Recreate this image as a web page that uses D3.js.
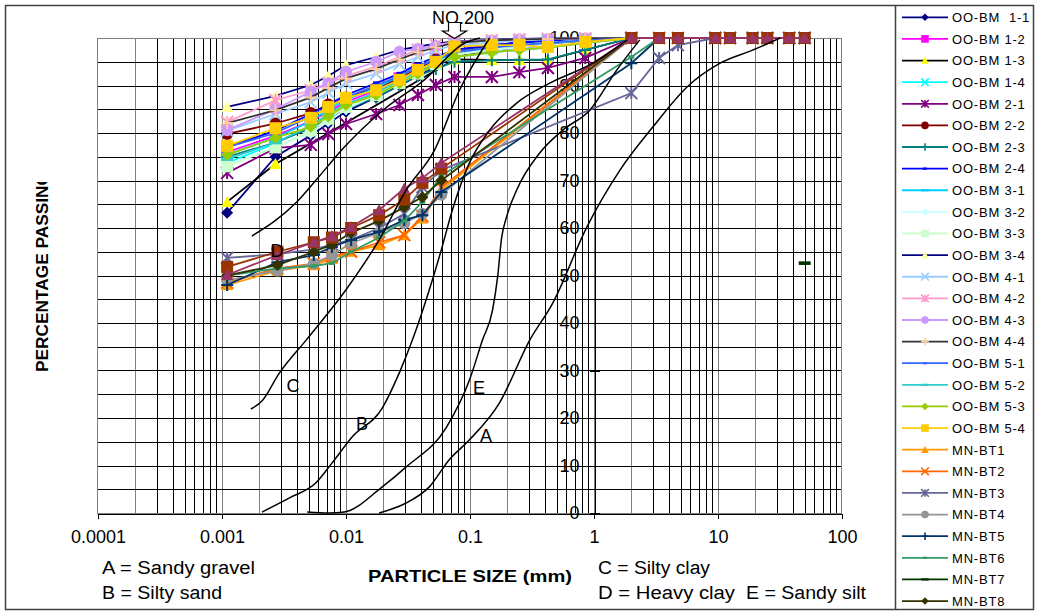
<!DOCTYPE html>
<html>

<head>
  <title>Particle size distribution</title>
  <script src="https://cdnjs.cloudflare.com/ajax/libs/d3/7.8.5/d3.min.js"></script>
  <style>
    body { margin: 0; background: #fff; }
    svg { font-family: Arial, 'Liberation Sans', sans-serif; }
  </style>
</head>

<body>
  <svg width="1040" height="613" id="mainsvg"></svg>
  <script>
    // ---- data ----
    const xTicks = [0.0001, 0.001, 0.01, 0.1, 1, 10, 100];
    const xTickLabels = ['0.0001', '0.001', '0.01', '0.1', '1', '10', '100'];
    const yTicks = [0, 10, 20, 30, 40, 50, 60, 70, 80, 90, 100];

    // sieve / hydrometer sizes (mm)
    const ooSizes = [0.0011, 0.0027, 0.0052, 0.0072, 0.01, 0.0175, 0.027, 0.038, 0.053, 0.075, 0.15, 0.25, 0.425, 0.85, 2];
    const mnSizes = [0.0011, 0.0028, 0.0055, 0.0077, 0.011, 0.0185, 0.0295, 0.0413, 0.0587, 2, 3.35, 4.75, 9.5, 12.5, 19, 25, 37.5, 50];

    // percentage passing
    const bm11 = [63.2, 75.0, 79.5, 82.0, 84.5, 87.5, 90.0, 92.0, 94.0, 96.0, 97.5, 98.0, 98.5, 99.2, 100];
    const bm12 = [76.0, 79.4, 82.5, 84.5, 86.5, 89.0, 91.5, 93.5, 95.5, 97.5, 98.5, 99.0, 99.3, 99.6, 100];
    const bm13 = [65.5, 73.5, null, null, null, null, null, null, null, 95.5, 95.4, 95.4, 95.4, 97.5, 100];
    const bm14 = [73.7, 77.8, 81.5, 84.0, 86.0, 88.5, 91.0, 93.0, 95.0, 97.0, 98.5, 99.0, 99.3, 99.6, 100];
    const bm21 = [71.6, 76.8, 77.5, 79.8, 81.9, 84.0, 85.9, 88.0, 90.1, 91.8, 91.8, 92.8, 93.7, 95.8, 100];
    const bm22 = [79.8, 82.0, 84.2, 86.0, 87.5, 89.5, 91.5, 93.5, 95.5, 97.0, 98.5, 99.0, 99.5, 99.8, 100];
    const bm23 = [75.0, 78.0, 81.0, 83.0, 85.0, 87.5, 90.0, 92.0, 93.5, 95.0, 95.3, 95.4, 95.5, 97.5, 100];
    const bm24 = [77.0, 80.5, 84.0, 86.0, 88.0, 90.5, 92.5, 94.5, 96.0, 97.5, 98.5, 99.0, 99.5, 99.8, 100];
    const bm31 = [75.5, 79.0, 82.5, 85.0, 87.0, 89.5, 92.0, 94.0, 95.5, 97.0, 98.0, 98.5, 99.0, 99.5, 100];
    const bm32 = [73.3, 77.0, 80.0, 82.5, 85.0, 88.0, 90.5, 92.5, 94.5, 96.5, 97.5, 98.0, 98.5, 99.0, 100];
    const bm33 = [73.0, 77.0, 80.5, 83.0, 85.5, 88.0, 90.5, 92.5, 94.5, 96.5, 97.5, 98.5, 99.0, 99.5, 100];
    const bm34 = [85.5, 87.8, 90.1, 92.0, 94.3, 96.0, 97.5, 98.2, 98.8, 99.3, 99.6, 99.8, 99.9, 100, 100];
    const bm41 = [80.5, 84.0, 86.5, 88.5, 90.5, 92.5, 94.5, 96.0, 97.5, 98.5, 99.0, 99.5, 99.7, 99.9, 100];
    const bm42 = [82.3, 86.9, 89.0, 90.5, 92.0, 94.0, 96.0, 97.5, 98.5, 99.2, 99.5, 99.7, 99.8, 99.9, 100];
    const bm43 = [80.6, 85.0, 88.7, 90.5, 92.9, 95.0, 97.1, 97.7, 98.3, 99.0, 99.5, 99.7, 99.8, 99.9, 100];
    const bm44 = [82.1, 84.8, 87.5, 89.5, 91.5, 93.5, 95.5, 97.0, 98.0, 99.0, 99.5, 99.7, 99.8, 99.9, 100];
    const bm51 = [77.0, 80.0, 83.5, 85.5, 87.5, 90.0, 92.0, 94.0, 95.5, 97.0, 98.0, 98.5, 99.0, 99.5, 100];
    const bm52 = [74.5, 78.0, 81.5, 84.0, 86.0, 88.5, 91.0, 93.0, 94.5, 96.0, 97.0, 97.5, 98.0, 99.0, 100];
    const bm53 = [75.4, 79.0, 81.3, 83.5, 85.9, 88.0, 90.5, 92.5, 94.5, 96.0, 97.0, 97.5, 98.0, 99.0, 100];
    const bm54 = [77.3, 81.0, 83.2, 85.5, 87.4, 89.0, 91.2, 93.3, 95.0, 98.2, 98.5, 98.5, 98.1, 99.2, 100];

    const bt1 = [48.0, 51.0, 52.2, 53.5, 55.0, 56.4, 58.5, 62.0, 68.0, 100, 100, 100, 100, 100, 100, 100, 100, 100];
    const bt2 = [48.5, 51.5, 52.5, 54.0, 55.0, 57.0, 58.5, 62.5, 68.5, 100, 100, 100, 100, 100, 100, 100, 100, 100];
    const bt3 = [53.7, 54.5, 55.5, 56.5, 57.5, 60.0, 63.0, 68.6, 72.2, 88.4, 95.8, 98.5, 100, 100, 100, 100, 100, 100];
    const bt4 = [49.0, 51.0, 52.5, 54.3, 56.8, 59.0, 61.0, 63.0, 67.0, 100, 100, 100, 100, 100, 100, 100, 100, 100];
    const bt5 = [48.0, 52.8, 54.3, 56.0, 57.5, 59.2, 61.7, 62.7, 67.6, 94.7, 100, 100, 100, 100, 100, 100, 100, 100];
    const bt6 = [50.0, 51.5, 52.0, 52.6, 55.0, 58.0, 61.5, 65.5, 71.0, 96.0, 100, 100, 100, 100, 100, 100, 100, 100];
    const bt7 = [null, null, null, null, null, null, null, null, null, null, null, null, null, null, null, null, null, 52.6];
    const bt8 = [50.0, 52.2, 55.0, 56.5, 59.0, 61.5, 64.4, 66.5, 70.0, 100, 100, 100, 100, 100, 100, 100, 100, 100];
    const bt9 = [51.8, 55.0, 57.0, 58.0, 60.0, 62.7, 66.0, 69.5, 72.5, 100, 100, 100, 100, 100, 100, 100, 100, 100];
    const bt10 = [50.1, 54.3, 57.0, 58.3, 60.2, 63.8, 68.3, 70.5, 73.7, 100, 100, 100, 100, 100, 100, 100, 100, 100];

    // reference grading curves [size mm, % passing]
    const curveA = [[0.0185, 0], [0.03, 2], [0.047, 5.5], [0.068, 11.2], [0.099, 15.4], [0.173, 23.2], [0.303, 36.4], [0.465, 44.2], [0.875, 60.2], [1.62, 72.2], [2.99, 81.3], [5.63, 89.7], [10.4, 94.7], [19.2, 97.5], [31.8, 100]];
    const curveB = [[0.0021, 0.2], [0.0035, 3.2], [0.0057, 6.3], [0.0077, 10.5], [0.0112, 16], [0.0196, 22.1], [0.0269, 29.5], [0.0343, 36.4], [0.047, 47], [0.0587, 55.4], [0.0721, 63.8], [0.099, 73.7], [0.144, 80.6], [0.238, 86.3], [0.44, 90.5], [0.98, 94.7], [1.85, 99.6]];
    const curveC = [[0.00171, 21.9], [0.0021, 23.6], [0.00289, 29.4], [0.00477, 36.4], [0.01, 47], [0.0185, 57.5], [0.0306, 68], [0.0517, 76.4], [0.0822, 89], [0.144, 100]];
    const curveD = [[0.00174, 58.3], [0.00395, 65.3], [0.00574, 70.1], [0.00966, 77], [0.0199, 84.8], [0.0429, 91.2], [0.0901, 98.9], [0.12, 100]];
    const curveE = [[0.00486, 0.2], [0.00731, 0], [0.00966, 0.2], [0.0196, 5.5], [0.0306, 9.7], [0.0647, 18.1], [0.099, 28], [0.126, 36.4], [0.152, 42.7], [0.167, 49.7], [0.18, 58], [0.197, 62.3], [0.238, 68], [0.365, 75.8], [0.56, 80.6], [0.925, 84.8], [1.53, 93.3], [2.34, 99.6]];
    const curveNames = ['A', 'B', 'C', 'D', 'E'];

    const ooNames = ['OO-BM  1-1', 'OO-BM 1-2', 'OO-BM 1-3', 'OO-BM 1-4', 'OO-BM 2-1', 'OO-BM 2-2', 'OO-BM 2-3', 'OO-BM 2-4',
      'OO-BM 3-1', 'OO-BM 3-2', 'OO-BM 3-3', 'OO-BM 3-4', 'OO-BM 4-1', 'OO-BM 4-2', 'OO-BM 4-3', 'OO-BM 4-4',
      'OO-BM 5-1', 'OO-BM 5-2', 'OO-BM 5-3', 'OO-BM 5-4'];
    const mnNames = ['MN-BT1', 'MN-BT2', 'MN-BT3', 'MN-BT4', 'MN-BT5', 'MN-BT6', 'MN-BT7', 'MN-BT8', 'MN-BT9', 'MN-BT10'];

    // ---- styles ----
    const lineColors = ['#000080', '#FF00FF', '#000000', '#00FFFF', '#800080', '#800000', '#008080', '#0000FF',
      '#00CCFF', '#CCFFFF', '#CCFFCC', '#000080', '#99CCFF', '#FF99CC', '#CC99FF', '#333333',
      '#3366FF', '#33CCCC', '#99CC00', '#FFCC00',
      '#FF9900', '#FF6600', '#666699', '#969696', '#003366', '#339966', '#003300', '#333300', '#993300', '#993366'];
    const markColors = lineColors.slice();
    markColors[2] = '#FFFF00';
    markColors[11] = '#FFFF99';
    markColors[15] = '#FFCC99';
    const markOrder = ['diamond', 'square', 'triangle', 'x', 'star', 'circle', 'plus', 'shortdash', 'dash'];

    const svg = d3.select('#mainsvg');
    const width = +svg.attr('width');
    const height = +svg.attr('height');

    svg.append('rect').attr('width', width).attr('height', height).attr('fill', '#fff');
    // chart border
    svg.append('rect').attr('x', 5.5).attr('y', 5.5).attr('width', 1028).attr('height', 604)
      .attr('fill', 'none').attr('stroke', '#404040').attr('stroke-width', 1.5);

    const xScale = d3.scaleLog().domain([1e-4, 100]).range([98, 842]);
    const yScale = d3.scaleLinear().domain([0, 100]).range([513, 38]);
    const px = v => Math.round(v) + 0.5;

    // grid
    const grid = svg.append('g').attr('shape-rendering', 'crispEdges');
    grid.selectAll('.vgrid').data(xScale.ticks().filter(t => t > 1e-4 && t < 100)).join('line')
      .attr('class', 'vgrid')
      .attr('x1', d => px(xScale(d))).attr('x2', d => px(xScale(d)))
      .attr('y1', yScale(100)).attr('y2', yScale(0))
      .attr('stroke', d => {
        const k = Math.round(d / Math.pow(10, Math.floor(Math.log10(d) + 1e-9)));
        return (k === 1 || k === 2) ? '#808080' : '#000';
      });
    grid.selectAll('.hgrid').data(d3.range(5, 100, 5)).join('line')
      .attr('class', 'hgrid')
      .attr('x1', 98).attr('x2', 842)
      .attr('y1', d => px(yScale(d))).attr('y2', d => px(yScale(d)))
      .attr('stroke', '#000');
    grid.append('rect').attr('x', 97.5).attr('y', 38.5).attr('width', 744).attr('height', 475)
      .attr('fill', 'none').attr('stroke', '#808080');

    // axes
    const xAxis = svg.append('g').attr('transform', 'translate(0,513.5)')
      .call(d3.axisBottom(xScale).tickValues(xTicks).tickFormat((d, i) => xTickLabels[i])
        .tickSizeInner(5).tickSizeOuter(0).tickPadding(12));
    xAxis.selectAll('text').attr('font-size', 18).attr('font-family', 'Arial, Liberation Sans, sans-serif').attr('fill', '#000');
    xAxis.selectAll('line,path').attr('stroke', '#000').attr('shape-rendering', 'crispEdges');

    const yAxis = svg.append('g').attr('transform', `translate(${px(xScale(1))},0)`)
      .call(d3.axisLeft(yScale).tickValues(yTicks).tickSizeInner(5).tickSizeOuter(0).tickPadding(10));
    yAxis.selectAll('.tick line').attr('x1', 5);
    yAxis.selectAll('text').attr('font-size', 18).attr('font-family', 'Arial, Liberation Sans, sans-serif').attr('fill', '#000');
    yAxis.selectAll('line,path').attr('stroke', '#000').attr('shape-rendering', 'crispEdges');

    // markers
    function markerPath(type, r) {
      switch (type) {
        case 'diamond': return `M0,${-r}L${r},0L0,${r}L${-r},0Z`;
        case 'square': return `M${-r},${-r}h${2 * r}v${2 * r}h${-2 * r}Z`;
        case 'triangle': return `M0,${-r}L${r},${r * 0.85}L${-r},${r * 0.85}Z`;
        case 'circle': return `M${r},0A${r},${r} 0 1,1 ${-r},0A${r},${r} 0 1,1 ${r},0Z`;
        case 'x': return `M${-r},${-r}L${r},${r}M${-r},${r}L${r},${-r}`;
        case 'star': return `M${-r},${-r}L${r},${r}M${-r},${r}L${r},${-r}M0,${-r}L0,${r}`;
        case 'plus': return `M${-r},0L${r},0M0,${-r}L0,${r}`;
        case 'shortdash': return `M${-r * 0.5},${-r * 0.3}h${r}v${r * 0.6}h${-r}Z`;
        case 'dash': return `M${-r},${-r * 0.3}h${2 * r}v${r * 0.6}h${-2 * r}Z`;
      }
    }
    const stroked = t => t === 'x' || t === 'star' || t === 'plus';

    const ooSeries = [bm11, bm12, bm13, bm14, bm21, bm22, bm23, bm24, bm31, bm32, bm33, bm34, bm41, bm42, bm43, bm44, bm51, bm52, bm53, bm54];
    const mnSeries = [bt1, bt2, bt3, bt4, bt5, bt6, bt7, bt8, bt9, bt10];
    const series = ooSeries.map((vals, i) => ({ name: ooNames[i], pts: ooSizes.map((s, j) => [s, vals[j]]) }))
      .concat(mnSeries.map((vals, i) => ({ name: mnNames[i], pts: mnSizes.map((s, j) => [s, vals[j]]) })));
    series.forEach((s, i) => {
      s.line = lineColors[i];
      s.mc = markColors[i];
      s.mark = markOrder[i % markOrder.length];
      s.pts = s.pts.filter(p => p[1] != null);
    });

    const seriesLine = d3.line().x(d => xScale(d[0])).y(d => yScale(d[1]));
    const smoothLine = d3.line().x(d => xScale(d[0])).y(d => yScale(d[1])).curve(d3.curveMonotoneX);
    const plotG = svg.append('g');
    series.forEach(s => {
      const g = plotG.append('g');
      if (s.pts.length > 1) {
        g.append('path').attr('d', seriesLine(s.pts)).attr('fill', 'none')
          .attr('stroke', s.line).attr('stroke-width', 1.8);
      }
      g.selectAll('path.m').data(s.pts).join('path').attr('class', 'm')
        .attr('transform', d => `translate(${xScale(d[0])},${yScale(d[1])})`)
        .attr('d', markerPath(s.mark, 6))
        .attr('fill', stroked(s.mark) ? 'none' : s.mc)
        .attr('stroke', stroked(s.mark) ? s.mc : 'none')
        .attr('stroke-width', 2);
    });

    // reference curves
    const curves = [curveA, curveB, curveC, curveD, curveE];
    svg.append('g').selectAll('path').data(curves).join('path')
      .attr('d', d => smoothLine(d)).attr('fill', 'none').attr('stroke', '#000').attr('stroke-width', 1.5);
    const curveLabelPos = [[486, 435], [362, 423], [293, 385], [277, 250], [479, 387]];
    svg.append('g').selectAll('text').data(curveNames).join('text')
      .attr('x', (d, i) => curveLabelPos[i][0]).attr('y', (d, i) => curveLabelPos[i][1] + 6.5)
      .attr('text-anchor', 'middle').attr('font-size', 18).text(d => d);

    // NO.200 marker
    const n200 = xScale(0.075);
    svg.append('text').attr('x', 432).attr('y', 24).attr('font-size', 18).text('NO.200');
    svg.append('path')
      .attr('d', `M${n200 - 6},22.5h12v8.5h6l-12,7.5l-12,-7.5h6Z`)
      .attr('fill', '#fff').attr('stroke', '#000').attr('stroke-width', 1.2);

    // axis titles
    svg.append('clipPath').attr('id', 'ytclip').append('rect').attr('x', 0).attr('y', 182).attr('width', 95).attr('height', 430);
    svg.append('g').attr('clip-path', 'url(#ytclip)')
      .append('text')
      .attr('transform', 'translate(48,372) rotate(-90)')
      .attr('font-size', 17).attr('font-weight', 'bold')
      .attr('textLength', 200).attr('lengthAdjust', 'spacingAndGlyphs')
      .text('PERCENTAGE PASSING');

    const notes = [
      { t: 'A = Sandy gravel', x: 102, y: 574, w: 153 },
      { t: 'B = Silty sand', x: 102, y: 599, w: 120 },
      { t: 'C = Silty clay', x: 598, y: 574, w: 112 },
      { t: 'D = Heavy clay', x: 598, y: 599, w: 137 },
      { t: 'E = Sandy silt', x: 746, y: 599, w: 120 }
    ];
    svg.append('g').selectAll('text').data(notes).join('text')
      .attr('x', d => d.x).attr('y', d => d.y).attr('font-size', 18)
      .attr('textLength', d => d.w).attr('lengthAdjust', 'spacingAndGlyphs')
      .text(d => d.t);
    svg.append('text').attr('x', 368).attr('y', 582).attr('font-size', 17).attr('font-weight', 'bold')
      .attr('textLength', 204).attr('lengthAdjust', 'spacingAndGlyphs')
      .text('PARTICLE SIZE (mm)');

    // legend
    svg.append('line').attr('x1', 895.5).attr('x2', 895.5).attr('y1', 5.5).attr('y2', 609.5)
      .attr('stroke', '#404040').attr('stroke-width', 1.5);
    const legend = svg.append('g');
    const legendItems = series.slice(0, 28);
    const lg = legend.selectAll('g').data(legendItems).join('g')
      .attr('transform', (d, i) => `translate(0,${17.3 + i * 21.62})`);
    lg.append('line').attr('x1', 902).attr('x2', 948).attr('stroke', d => d.line).attr('stroke-width', 1.8);
    lg.append('path').attr('transform', 'translate(925,0)')
      .attr('d', d => markerPath(d.mark, 3.8))
      .attr('fill', d => stroked(d.mark) ? 'none' : d.mc)
      .attr('stroke', d => stroked(d.mark) ? d.mc : 'none')
      .attr('stroke-width', 1.6);
    lg.append('text').attr('x', 952).attr('y', 4.8).attr('font-size', 13).attr('letter-spacing', 0.8)
      .style('white-space', 'pre').text(d => d.name);
  </script>
</body>

</html>
